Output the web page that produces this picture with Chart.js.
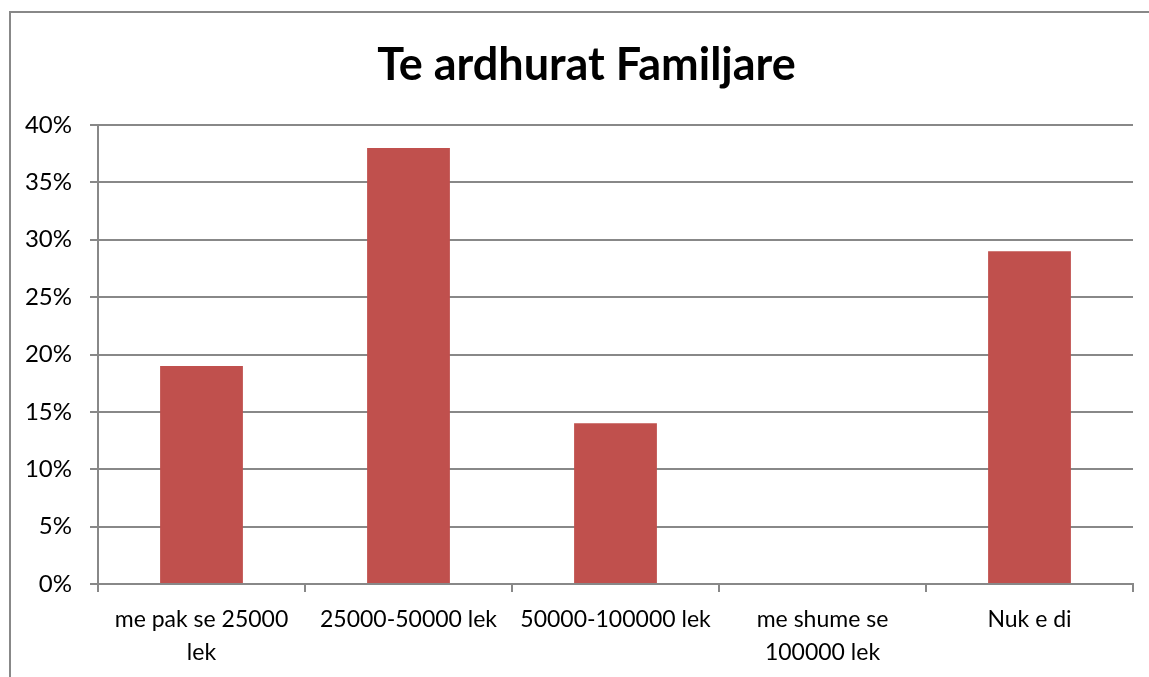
<!DOCTYPE html>
<html>
<head>
<meta charset="utf-8">
<script src="https://cdn.jsdelivr.net/npm/chart.js@4.4.0/dist/chart.umd.min.js"></script>
<style>
  html, body { margin: 0; padding: 0; background: #fff; }
  #wrap { position: absolute; left: 0; top: 0; width: 1149px; height: 677px; }
</style>
</head>
<body>
<div id="wrap"><canvas id="barChart" width="1149" height="677"></canvas></div>
<script>
const categories = [
  ['me pak se 25000', 'lek'],
  '25000-50000 lek',
  '50000-100000 lek',
  ['me shume se', '100000 lek'],
  'Nuk e di'
];
const shares = [19, 38, 14, 0, 29];
const yTicks = [0, 5, 10, 15, 20, 25, 30, 35, 40];

const gray = '#888888';

// outer frame of the chart (left + top edges visible)
// and nudge the title a bit right, like the original
const framePlugin = {
  id: 'frame',
  afterLayout(chart) {
    if (chart.titleBlock) {
      chart.titleBlock.left += 15;
      chart.titleBlock.right += 15;
    }
  },
  beforeDraw(chart) {
    const c = chart.ctx;
    c.save();
    c.strokeStyle = gray;
    c.lineWidth = 2;
    c.beginPath();
    c.moveTo(10, 677);
    c.lineTo(10, 12);
    c.lineTo(1149, 12);
    c.stroke();
    c.restore();
  }
};

const ctx = document.getElementById('barChart').getContext('2d');
new Chart(ctx, {
  type: 'bar',
  data: {
    labels: categories,
    datasets: [{
      label: 'Te ardhurat Familjare',
      data: shares,
      backgroundColor: '#C0504D',
      barPercentage: 0.4,
      categoryPercentage: 1.0
    }]
  },
  options: {
    responsive: false,
    animation: false,
    layout: { padding: { left: 10, right: 16, top: 0, bottom: 0 } },
    plugins: {
      legend: { display: false },
      tooltip: { enabled: false },
      title: {
        display: true,
        text: 'Te ardhurat Familjare',
        color: '#000',
        font: { family: 'Lato', size: 45, weight: 'bold' },
        padding: { top: 38, bottom: 33 }
      }
    },
    scales: {
      x: {
        afterFit: s => { s.height = 93; },
        grid: {
          offset: true,
          drawOnChartArea: false,
          drawTicks: true,
          tickLength: 8,
          color: gray,
          lineWidth: 2
        },
        border: { color: gray, width: 2 },
        ticks: {
          color: '#000',
          font: { family: 'Lato', size: 23, lineHeight: 1.43 },
          padding: 11,
          maxRotation: 0,
          autoSkip: false
        }
      },
      y: {
        min: 0,
        max: 40,
        afterFit: s => { s.width = 88; },
        afterBuildTicks: s => { s.ticks = yTicks.map(v => ({ value: v })); },
        grid: {
          color: gray,
          lineWidth: 2,
          tickLength: 8
        },
        border: { color: gray, width: 2 },
        ticks: {
          color: '#000',
          font: { family: 'Lato', size: 24 },
          padding: 18,
          callback: v => v + '%'
        }
      }
    }
  },
  plugins: [framePlugin]
});
</script>
</body>
</html>
